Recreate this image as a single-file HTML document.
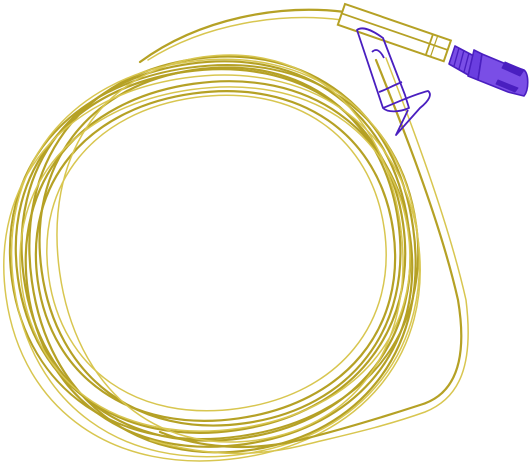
<!DOCTYPE html>
<html><head><meta charset="utf-8"><style>
html,body{margin:0;padding:0;background:#fff;width:529px;height:467px;overflow:hidden}
svg{display:block}
</style></head><body>
<svg id="art" width="529" height="467" viewBox="0 0 529 467" xmlns="http://www.w3.org/2000/svg">
<g id="coils" fill="none" stroke-linecap="round"></g>
<g fill="none" stroke-linecap="round">
 <path d="M140,62 C200,18 280,4 345,12" stroke="#b5a125" stroke-width="2.2"/>
 <path d="M148,60 C205,24 280,12 342,20" stroke="#d8c650" stroke-width="1.5"/>
 <path d="M376,60 C400,120 440,220 458,300 C468,360 455,395 420,405 C380,418 340,430 300,440 C250,452 200,448 160,432" stroke="#b5a125" stroke-width="2.2"/>
 <path d="M386,58 C410,120 448,220 466,300 C474,365 460,398 425,412 C380,428 340,436 300,446 C250,458 200,455 150,440" stroke="#d8c650" stroke-width="1.5"/>
</g>
<g transform="rotate(19 345 4)">
 <rect x="345" y="4" width="112" height="22" fill="#fff" stroke="#b5a125" stroke-width="2"/>
 <line x1="438" y1="4" x2="438" y2="26" stroke="#b5a125" stroke-width="1.8"/>
 <line x1="443" y1="4" x2="443" y2="26" stroke="#b5a125" stroke-width="1.2"/>
 <line x1="345" y1="14" x2="457" y2="14" stroke="#b5a125" stroke-width="1.8"/>
</g>
<g stroke="#4a1fc0" stroke-linejoin="round">
 <path d="M455,46 L474,56 L470,76 L449,64 Z" fill="#7a4ee6" stroke-width="1.6"/>
 <line x1="459" y1="48" x2="454" y2="66" stroke-width="1.4"/>
 <line x1="464" y1="50" x2="459" y2="69" stroke-width="1.4"/>
 <line x1="469" y1="53" x2="464" y2="72" stroke-width="1.4"/>
 <path d="M474,50 L482,54 L478,80 L468,76 Z" fill="#6a3ee0" stroke-width="1.6"/>
 <path d="M482,54 L506,64 L524,70 C529,74 529,90 524,96 L508,92 L478,80 Z" fill="#7a4ee6" stroke-width="1.6"/>
 <path d="M505,62 L524,70 L520,76 L502,68 Z" fill="#4a1fc0" stroke-width="1"/>
 <path d="M498,80 L518,88 L515,92 L496,84 Z" fill="#4a1fc0" stroke-width="1"/>
</g>
<g fill="none" stroke="#4a1fc0" stroke-width="1.8" stroke-linejoin="round">
 <path d="M357,30 C362,26 372,30 383,38 L405,95 L409,108 C400,112 388,113 383,108 Z"/>
 <path d="M379,92 C385,90 392,86 402,82"/>
 <path d="M383,108 C398,102 415,94 428,91 C432,94 430,100 420,108 L396,135 L408,110"/>
 <path d="M372,52 C376,48 380,50 384,58"/>
</g>
<script>
var coils = document.getElementById('coils');
var rings = [
 [22,62,410,440,'#b5a125',2.2],[30,57,415,452,'#b5a125',2.2],[16,70,405,432,'#b5a125',2.2],
 [40,68,400,425,'#b5a125',2.2],[26,82,412,446,'#b5a125',2.2],[36,92,395,420,'#b5a125',2.2],
 [10,66,418,438,'#b5a125',2.0],
 [4,76,420,460,'#d8c650',1.5],[47,96,386,410,'#d8c650',1.5],[12,60,419,456,'#d8c650',1.5],
 [58,55,402,442,'#d8c650',1.5],[20,88,410,430,'#d8c650',1.5]
];
rings.forEach(function(r){
 var l=r[0],t=r[1],rt=r[2],b=r[3];
 var cx=(l+rt)/2, cy=(t+b)/2, rx=(rt-l)/2, ry=(b-t)/2, k=0.6;
 var d='M'+cx+','+t+
  ' C'+(cx+rx*k)+','+t+' '+rt+','+(cy-ry*k)+' '+rt+','+cy+
  ' C'+rt+','+(cy+ry*k)+' '+(cx+rx*k)+','+b+' '+cx+','+b+
  ' C'+(cx-rx*k)+','+b+' '+l+','+(cy+ry*k)+' '+l+','+cy+
  ' C'+l+','+(cy-ry*k)+' '+(cx-rx*k)+','+t+' '+cx+','+t+' Z';
 var p=document.createElementNS('http://www.w3.org/2000/svg','path');
 p.setAttribute('d',d);
 p.setAttribute('stroke',r[4]);
 p.setAttribute('stroke-width',r[5]);
 p.setAttribute('transform','rotate(-8 '+cx+' '+cy+')');
 
 
 coils.appendChild(p);
});
</script>
</svg>
</body></html>
